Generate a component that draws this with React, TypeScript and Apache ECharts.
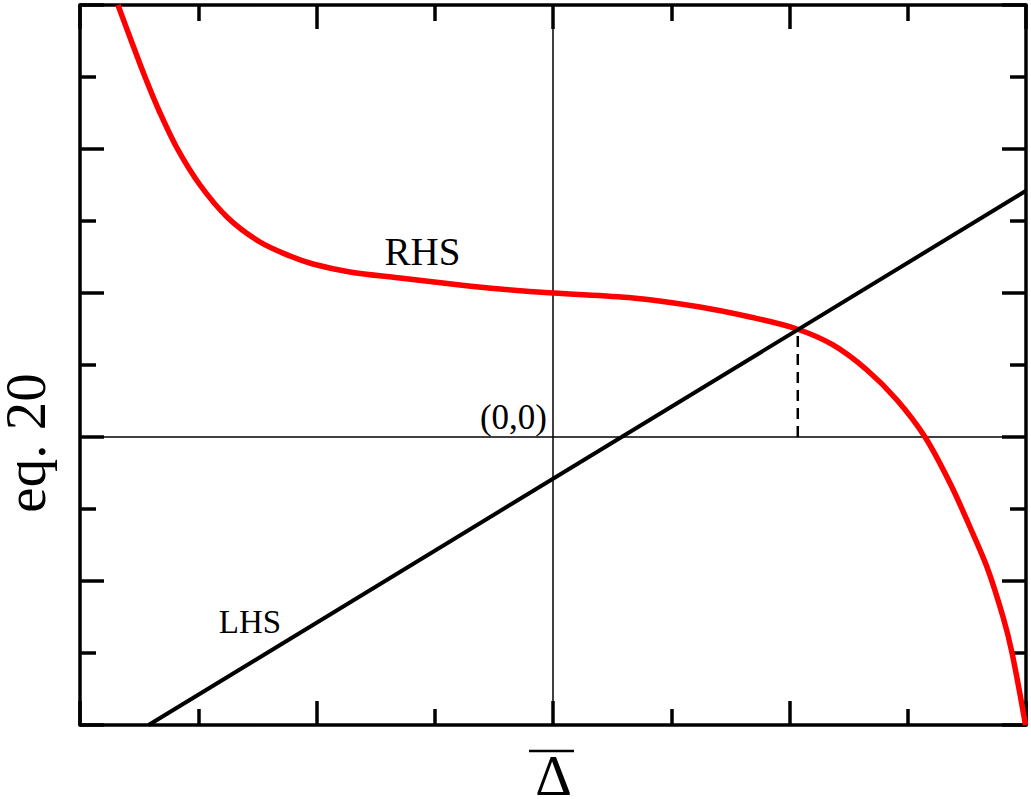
import React, { useEffect, useRef } from "react";
import * as echarts from "echarts";

// Axis ranges (data units)
const xRange = [-4, 4];
const yRange = [-4, 6];

// RHS curve (red)
const rhsX = [-3.679, -3.569, -3.45, -3.323, -3.18, -2.985, -2.748, -2.478, -2.224, -2.03, -1.717, -1.294, -0.786, -0.448, 0.0, 0.677, 1.243, 1.666, 2.063, 2.368, 2.655, 2.909, 3.146, 3.357, 3.526, 3.67, 3.806, 3.882, 3.996];
const rhsY = [6.0, 5.514, 5.0, 4.5, 4.014, 3.5, 3.042, 2.708, 2.514, 2.403, 2.292, 2.208, 2.111, 2.056, 2.0, 1.931, 1.806, 1.667, 1.5, 1.278, 0.931, 0.514, 0.0, -0.639, -1.25, -1.806, -2.5, -3.0, -4.0];

// LHS straight line (black)
const lhsX = [-3.42, 4.0];
const lhsY = [-4.0, 3.42];

// Intersection marker (dashed vertical)
const crossX = [2.07, 2.07];
const crossY = [0.0, 1.49];

// Reference axes through the origin
const hLineX = [-4, 4];
const hLineY = [0, 0];
const vLineX = [0, 0];
const vLineY = [-4, 6];

const FONT = "Liberation Serif";

const zip = (a: number[], b: number[]) => a.map((v, i) => [v, b[i]]);

const axisCommon = (min: number, max: number) => ({
  type: "value" as const,
  min,
  max,
  interval: 2,
  axisLine: { show: true, onZero: false, lineStyle: { color: "#000", width: 3.5 } },
  axisTick: { show: true, inside: true, length: 24, lineStyle: { color: "#000", width: 3.5 } },
  minorTick: { show: true, splitNumber: 2, length: 16, lineStyle: { color: "#000", width: 3.5 } },
  axisLabel: { show: false },
  splitLine: { show: false },
  minorSplitLine: { show: false },
});

const txt = (text: string, size: number, lh?: number) => ({
  text,
  fontSize: size,
  fontFamily: FONT,
  fill: "#000",
  align: "center",
  verticalAlign: "middle",
  lineHeight: lh ?? size,
});

export default function App() {
  const ref = useRef<HTMLDivElement>(null);

  useEffect(() => {
    document.body.style.margin = "0";
    if (!ref.current) return;
    const chart = echarts.init(ref.current, null, { renderer: "svg" });
    const option: any = {
      animation: false,
      backgroundColor: "#fff",
      grid: { left: 80, top: 5, width: 946, height: 720, containLabel: false },
      xAxis: [
        { ...axisCommon(xRange[0], xRange[1]), position: "bottom" },
        { ...axisCommon(xRange[0], xRange[1]), position: "top" },
      ],
      yAxis: [
        { ...axisCommon(yRange[0], yRange[1]), position: "left" },
        { ...axisCommon(yRange[0], yRange[1]), position: "right" },
      ],
      series: [
        {
          type: "line",
          data: zip(hLineX, hLineY),
          symbol: "none",
          lineStyle: { color: "#000", width: 1.5 },
          z: 1,
        },
        {
          type: "line",
          data: zip(vLineX, vLineY),
          symbol: "none",
          lineStyle: { color: "#000", width: 1.5 },
          z: 1,
        },
        {
          type: "line",
          data: zip(crossX, crossY),
          symbol: "none",
          lineStyle: { color: "#000", width: 2.5, type: [11, 7] },
          z: 2,
        },
        {
          type: "line",
          data: zip(rhsX, rhsY),
          symbol: "none",
          smooth: 0.33,
          lineStyle: { color: "#ff0000", width: 5.5, join: "round" },
          z: 3,
        },
        {
          type: "line",
          data: zip(lhsX, lhsY),
          symbol: "none",
          lineStyle: { color: "#000", width: 4 },
          z: 4,
        },
      ],
      graphic: [
        { type: "text", x: 422.5, y: 251.5, style: txt("RHS", 39) },
        { type: "text", x: 250, y: 621.5, style: txt("LHS", 33) },
        { type: "text", x: 513.5, y: 417, style: txt("(0,0)", 35) },
        { type: "text", x: 553.5, y: 775, style: txt("Δ", 57, 40) },
        {
          type: "line",
          shape: { x1: 529, y1: 751, x2: 574, y2: 751 },
          style: { stroke: "#000", lineWidth: 2.5 },
        },
        {
          type: "text",
          x: 25,
          y: 443,
          rotation: Math.PI / 2,
          style: txt("eq. 20", 57, 44),
        },
      ],
    };
    chart.setOption(option);
    return () => chart.dispose();
  }, []);

  return (
    <div
      ref={ref}
      style={{ position: "absolute", left: 0, top: 0, width: 1031, height: 799 }}
    />
  );
}
